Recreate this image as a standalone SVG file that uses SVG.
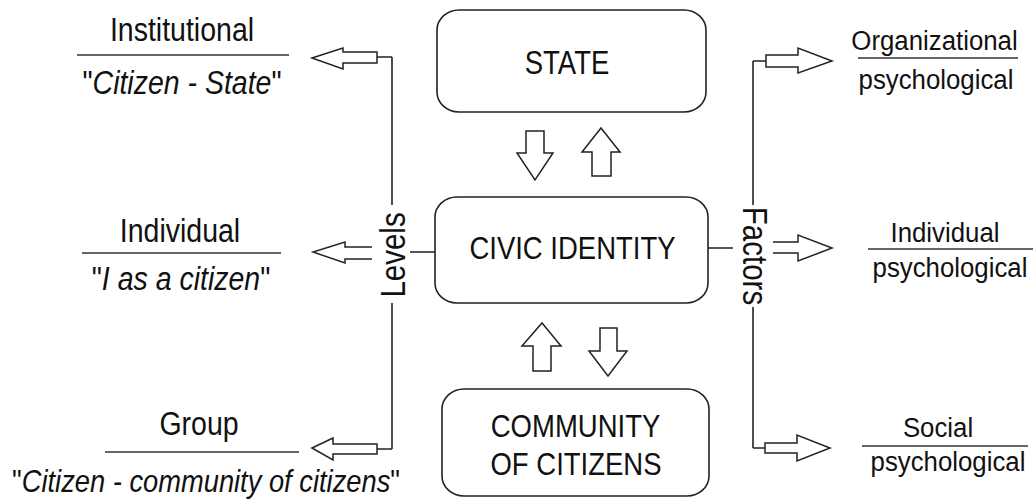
<svg xmlns="http://www.w3.org/2000/svg" width="1035" height="499" viewBox="0 0 1035 499">
<style>
.t{font-family:"Liberation Sans",Arial,sans-serif;font-size:28.5px;fill:#111;text-anchor:middle}
.r{font-family:"Liberation Sans",Arial,sans-serif;font-size:25.8px;fill:#111;text-anchor:middle}
.b{font-family:"Liberation Sans",Arial,sans-serif;font-size:27.5px;fill:#111;text-anchor:middle}
.i{font-style:italic}
.n{font-style:normal}
.box{fill:#fff;stroke:#222;stroke-width:1.6}
.ln{fill:none;stroke:#222;stroke-width:1.6}
.ul{fill:none;stroke:#333;stroke-width:1.6}
.ar{fill:#fff;stroke:#222;stroke-width:1.5;stroke-linejoin:miter}
.ao{fill:none;stroke:#222;stroke-width:1.5}
</style>
<rect width="1035" height="499" fill="#fff"/>

<g id="connectors">
  <path class="ln" d="M392,57 V205 M392,303 V449 M377,57 H392 M377,449 H392 M410,252 H435"/>
  <path class="ln" d="M753,61 V205 M753,307 V448 M753,61 H766 M753,448 H765 M708,248 H733"/>
  <path class="ar" d="M312,58 L343,48 L343,52 L377,52 L377,63 L343,63 L343,69 Z"/>
  <path class="ao" d="M372,247 L345,247 L345,242 L313,252 L345,263 L345,259 L372,259"/>
  <path class="ar" d="M312,448 L333,438 L333,444 L377,444 L377,454 L333,454 L333,460 Z"/>
  <path class="ar" d="M766,55 L798,55 L798,48 L832,61 L798,73 L798,67 L766,67 Z"/>
  <path class="ao" d="M773,242 L798,242 L798,235 L832,248 L798,261 L798,253 L773,253"/>
  <path class="ar" d="M765,443 L797,443 L797,435 L830,448 L797,461 L797,453 L765,453 Z"/>
  <path class="ar" d="M526,131 L544,131 L544,153 L553,153 L535,180 L517,153 L526,153 Z"/>
  <path class="ar" d="M592,176 L611,176 L611,152 L620,152 L601,128 L582,152 L592,152 Z"/>
  <path class="ar" d="M533,371 L551,371 L551,346 L561,346 L542,323 L522,346 L533,346 Z"/>
  <path class="ar" d="M600,328 L617,328 L617,351 L627,351 L608,376 L589,351 L600,351 Z"/>
  <text class="t" transform="translate(405,255) rotate(-90) scale(1,1.18)" x="0" y="0" style="font-size:29.5px">Levels</text>
  <text class="t" transform="translate(743,256) rotate(90) scale(1,1.18)" x="0" y="0" style="font-size:29.5px">Factors</text>
</g>

<g id="state">
  <rect class="box" x="437" y="10" width="269" height="102" rx="22" ry="20"/>
  <text class="b" transform="translate(567,74) scale(1,1.18)">STATE</text>
</g>
<g id="civic-identity">
  <rect class="box" x="435" y="197" width="273" height="106" rx="22" ry="20"/>
  <text class="b" transform="translate(572.5,259) scale(1,1.15)">CIVIC IDENTITY</text>
</g>
<g id="community">
  <rect class="box" x="442" y="389" width="267" height="107" rx="22" ry="20"/>
  <text class="b" transform="translate(575.5,437) scale(1,1.15)">COMMUNITY</text>
  <text class="b" transform="translate(576,475) scale(1,1.15)">OF CITIZENS</text>
</g>

<g id="institutional">
  <text class="t" transform="translate(182,41) scale(1,1.17)">Institutional</text>
  <path class="ul" d="M77,55 H289"/>
  <text class="t i" transform="translate(182,94) scale(1,1.17)"><tspan class="n">"</tspan>Citizen - State<tspan class="n">"</tspan></text>
</g>
<g id="individual-level">
  <text class="t" transform="translate(180,242) scale(1,1.17)">Individual</text>
  <path class="ul" d="M82,253 H281"/>
  <text class="t i" transform="translate(181,290) scale(1,1.17)"><tspan class="n">"</tspan>I as a citizen<tspan class="n">"</tspan></text>
</g>
<g id="group">
  <text class="t" transform="translate(199,435) scale(1,1.17)">Group</text>
  <path class="ul" d="M105,452 H299"/>
  <text class="t i" transform="translate(206,492) scale(1,1.17)" style="font-size:27.3px"><tspan class="n">"</tspan>Citizen - community of citizens<tspan class="n">"</tspan></text>
</g>

<g id="organizational">
  <text class="r" transform="translate(934.5,50) scale(1,1.1)">Organizational</text>
  <path class="ul" d="M858,58 H1018"/>
  <text class="r" transform="translate(936,89) scale(1,1.1)">psychological</text>
</g>
<g id="individual-factor">
  <text class="r" transform="translate(945,242) scale(1,1.1)">Individual</text>
  <path class="ul" d="M868,249 H1033"/>
  <text class="r" transform="translate(950,277) scale(1,1.1)">psychological</text>
</g>
<g id="social">
  <text class="r" transform="translate(938,437) scale(1,1.1)">Social</text>
  <path class="ul" d="M862,446 H1028"/>
  <text class="r" transform="translate(948,471) scale(1,1.1)">psychological</text>
</g>
</svg>
